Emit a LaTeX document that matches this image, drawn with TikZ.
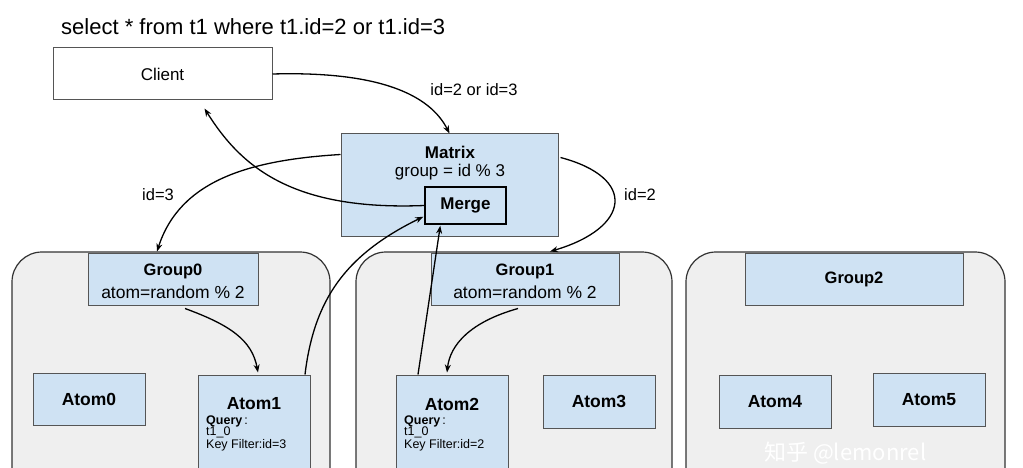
\documentclass[tikz,border=0pt]{standalone}
\usepackage{fontspec}
\setmainfont{Liberation Sans}
\newfontfamily\cjk{Noto Sans CJK SC}
\usetikzlibrary{arrows.meta,calc}
\definecolor{bluefill}{HTML}{CFE2F3}
\definecolor{grayfill}{HTML}{EFEFEF}
\definecolor{edgegray}{HTML}{555555}
\tikzset{
  bbox/.style={draw=edgegray, fill=bluefill, line width=1pt, inner sep=0pt},
  wbox/.style={draw=edgegray, fill=white, line width=1pt, inner sep=0pt},
  container/.style={draw=black!80, fill=grayfill, line width=1.2pt, rounded corners=30pt},
  arr/.style={-{Stealth[length=8pt,width=6pt]}, line width=1.3pt, black},
  lbl/.style={font=\fontsize{16.5}{18}\selectfont, inner sep=0pt},
  ttl/.style={font=\fontsize{17}{19}\selectfont\bfseries, inner sep=0pt},
  gtl/.style={font=\fontsize{16.5}{19}\selectfont\bfseries, inner sep=0pt},
  gfl/.style={font=\fontsize{17.5}{19}\selectfont, inner sep=0pt},
  atl/.style={font=\fontsize{17.5}{19}\selectfont\bfseries, inner sep=0pt},
  small/.style={font=\fontsize{12.5}{13}\selectfont, inner sep=0pt, anchor=west},
}
\begin{document}
\begin{tikzpicture}[x=1pt,y=-1pt]
\useasboundingbox (0,0) rectangle (1023,468);
\clip (0,0) rectangle (1023,468);
\fill[white] (0,0) rectangle (1023,468);

% title
\node[font=\fontsize{22}{25}\selectfont, anchor=west, inner sep=0pt] (title) at (61,27) {select * from t1 where t1.id=2 or t1.id=3};

% containers
\draw[container] (12,252) rectangle (330,500);
\draw[container] (356,252) rectangle (672,500);
\draw[container] (686,252) rectangle (1005,500);

% client
\node[wbox, minimum width=219pt, minimum height=52pt] (client) at (162.5,74) {};
\node[lbl,font=\fontsize{17}{19}\selectfont] (clientt) at (client.center) {Client};

% matrix
\node[bbox, minimum width=217pt, minimum height=102pt] (matrix) at (449.5,185) {};
\node[ttl] (matrixt) at (450,152) {Matrix};
\node[lbl,font=\fontsize{17}{19}\selectfont] (matrixf) at (450,172) {group = id \% 3};
\node[draw=black, fill=bluefill, line width=1.4pt, minimum width=81pt, minimum height=37pt, inner sep=0pt] (merge) at (465.5,205.5) {};
\node[ttl] (merget) at (merge.center) {Merge};

% groups
\node[bbox, minimum width=170pt, minimum height=52pt] (group0) at (173,279) {};
\node[gtl] (g0t) at (173,271) {Group0};
\node[gfl] (g0f) at (173,292) {atom=random \% 2};
\node[bbox, minimum width=188pt, minimum height=52pt] (group1) at (525,279) {};
\node[gtl] (g1t) at (525,271) {Group1};
\node[gfl] (g1f) at (525,292) {atom=random \% 2};
\node[bbox, minimum width=218pt, minimum height=52pt] (group2) at (854,279) {};
\node[gtl] (g2t) at (group2.center) {Group2};

% atoms
\node[bbox, minimum width=112pt, minimum height=52pt] (atom0) at (89,399) {};
\node[atl] (a0t) at (atom0.center) {Atom0};
\node[bbox, minimum width=112pt, minimum height=110pt] (atom1) at (254,430) {};
\node[atl] (a1t) at (254,404) {Atom1};
\node[small] (a1q) at (206,421) {\textbf{Query}\,:};
\node[small] (a1n) at (206,432.5) {t1\_0};
\node[small] (a1k) at (206,445) {Key Filter:id=3};
\node[bbox, minimum width=112pt, minimum height=110pt] (atom2) at (452,430) {};
\node[atl] (a2t) at (452,404) {Atom2};
\node[small] (a2q) at (404,421) {\textbf{Query}\,:};
\node[small] (a2n) at (404,432.5) {t1\_0};
\node[small] (a2k) at (404,445) {Key Filter:id=2};
\node[bbox, minimum width=112pt, minimum height=53pt] (atom3) at (599,401.5) {};
\node[atl] (a3t) at (atom3.center) {Atom3};
\node[bbox, minimum width=112pt, minimum height=53pt] (atom4) at (775,401.5) {};
\node[atl] (a4t) at (atom4.center) {Atom4};
\node[bbox, minimum width=112pt, minimum height=53pt] (atom5) at (929,399.5) {};
\node[atl] (a5t) at (atom5.center) {Atom5};

% labels
\node[lbl] (l1) at (474,90) {id=2 or id=3};
\node[lbl] (l2) at (158,195) {id=3};
\node[lbl] (l3) at (640,195) {id=2};

% connectors
\draw[arr] (client.east) .. controls (380,71) and (430,95) .. (matrix.north);
\draw[arr] (merge.west) .. controls (290,211) and (240,165) .. ($(client.south)+(42,8)$);
\draw[arr] ($(matrix.north west)+(0,21)$) .. controls (250,160) and (180,180) .. ($(group0.north)+(-16,-1)$);
\draw[arr] ($(matrix.north east)+(2,24)$) .. controls (638,178) and (630,228) .. ($(group1.north)+(25,-1)$);
\draw[arr] ($(group0.south)+(12,3)$) .. controls (230,325) and (252,340) .. ($(atom1.north)+(4,-2)$);
\draw[arr] ($(group1.south)+(-7,3)$) .. controls (470,322) and (450,345) .. ($(atom2.north)+(-5,-2)$);
\draw[arr] ($(atom1.north)+(51,0)$) .. controls (314,300) and (345,255) .. ($(merge.south west)+(-1,-8)$);
\draw[arr] ($(atom2.north)+(-34,0)$) -- ($(merge.south west)+(16,1)$);

% watermark
\node[font=\fontsize{22}{24}\selectfont\cjk, text=white, inner sep=0pt, anchor=west] (wm) at (764,453) {知乎 @lemonrel};
\end{tikzpicture}
\end{document}
